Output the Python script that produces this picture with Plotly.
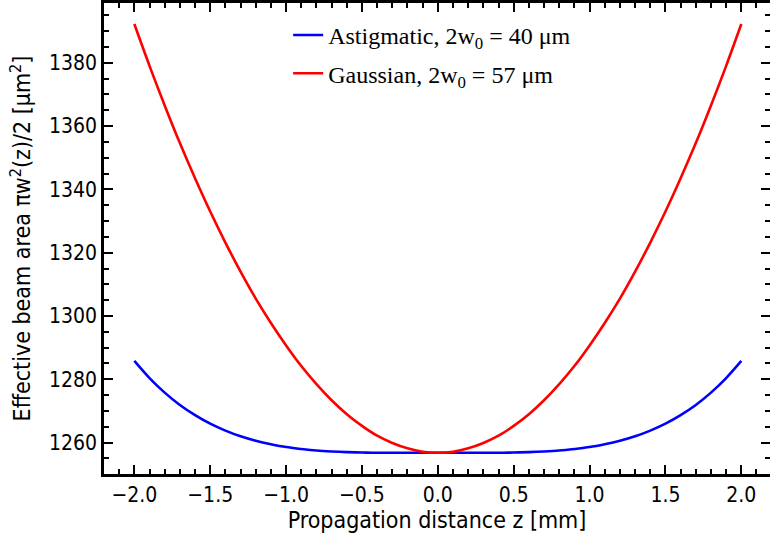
import plotly.graph_objects as go

# Propagation distance z [mm]
z_mm = [-2.0, -1.9, -1.8, -1.7, -1.6, -1.5, -1.4, -1.3, -1.2, -1.1, -1.0,
        -0.9, -0.8, -0.7, -0.6, -0.5, -0.4, -0.3, -0.2, -0.1, 0.0,
        0.1, 0.2, 0.3, 0.4, 0.5, 0.6, 0.7, 0.8, 0.9, 1.0,
        1.1, 1.2, 1.3, 1.4, 1.5, 1.6, 1.7, 1.8, 1.9, 2.0]

# Effective beam area [um^2]
astigmatic_area = [1285.8, 1280.4, 1275.8, 1271.9, 1268.7, 1266.0, 1263.8, 1262.0, 1260.6, 1259.5, 1258.6,
                   1258.0, 1257.5, 1257.2, 1257.0, 1256.9, 1256.8, 1256.8, 1256.8, 1256.8, 1256.8,
                   1256.8, 1256.8, 1256.8, 1256.8, 1256.9, 1257.0, 1257.2, 1257.5, 1258.0, 1258.6,
                   1259.5, 1260.6, 1262.0, 1263.8, 1266.0, 1268.7, 1271.9, 1275.8, 1280.4, 1285.8]

gaussian_area = [1392.2, 1379.0, 1366.5, 1354.6, 1343.5, 1333.0, 1323.2, 1314.0, 1305.5, 1297.8, 1290.7,
                 1284.2, 1278.5, 1273.4, 1269.0, 1265.3, 1262.2, 1259.9, 1258.2, 1257.1, 1256.8,
                 1257.1, 1258.2, 1259.9, 1262.2, 1265.3, 1269.0, 1273.4, 1278.5, 1284.2, 1290.7,
                 1297.8, 1305.5, 1314.0, 1323.2, 1333.0, 1343.5, 1354.6, 1366.5, 1379.0, 1392.2]

series_names = ["Astigmatic, 2w<sub>0</sub> = 40 μm", "Gaussian, 2w<sub>0</sub> = 57 μm"]
series_colors = ["#0000ff", "#ff0000"]

x_ticks = [-2.0, -1.5, -1.0, -0.5, 0.0, 0.5, 1.0, 1.5, 2.0]
y_ticks = [1260, 1280, 1300, 1320, 1340, 1360, 1380]

sans = "DejaVu Sans Condensed, DejaVu Sans, sans-serif"
serif = "Liberation Serif, Times New Roman, serif"

fig = go.Figure()
for i, (vals, name, col) in enumerate(zip([astigmatic_area, gaussian_area], series_names, series_colors)):
    fig.add_trace(go.Scatter(
        x=z_mm, y=vals, mode="lines", name=name, legendgroup=f"g{i}",
        line=dict(color=col, width=2.6, shape="spline", smoothing=1.0),
    ))

axis_common = dict(
    showline=True, linecolor="black", linewidth=2.5, mirror="ticks",
    ticks="inside", ticklen=9, tickwidth=2, tickcolor="black",
    showgrid=False, zeroline=False, automargin=False,
    tickfont=dict(family=sans, size=21, color="black"),
)

fig.update_layout(
    width=770, height=536,
    paper_bgcolor="white", plot_bgcolor="white",
    margin=dict(l=104, r=0, t=3, b=62),
    showlegend=True,
    legend=dict(
        x=0.2765, y=0.979, xanchor="left", yanchor="top",
        bgcolor="rgba(0,0,0,0)", borderwidth=0,
        font=dict(family=serif, size=24, color="black"),
        tracegroupgap=4,
    ),
    xaxis=dict(
        **axis_common,
        range=[-2.2, 2.189],
        tickvals=x_ticks, tickformat=".1f",
        minor=dict(dtick=0.1, ticks="inside", ticklen=5, tickwidth=2, tickcolor="black", showgrid=False),
        title=dict(text="Propagation distance z [mm]", font=dict(family=sans, size=23, color="black"), standoff=3),
    ),
    yaxis=dict(
        **axis_common,
        range=[1250.1, 1398.85],
        tickvals=y_ticks,
        minor=dict(dtick=5, tick0=1250, ticks="inside", ticklen=5, tickwidth=2, tickcolor="black", showgrid=False),
        title=dict(text="Effective beam area πw<sup>2</sup>(z)/2 [μm<sup>2</sup>]", font=dict(family=sans, size=23, color="black"), standoff=12),
    ),
)

fig.write_html("out.html", config={"displayModeBar": False},
               post_script="document.body.style.margin='0px';document.body.style.padding='0px';")
